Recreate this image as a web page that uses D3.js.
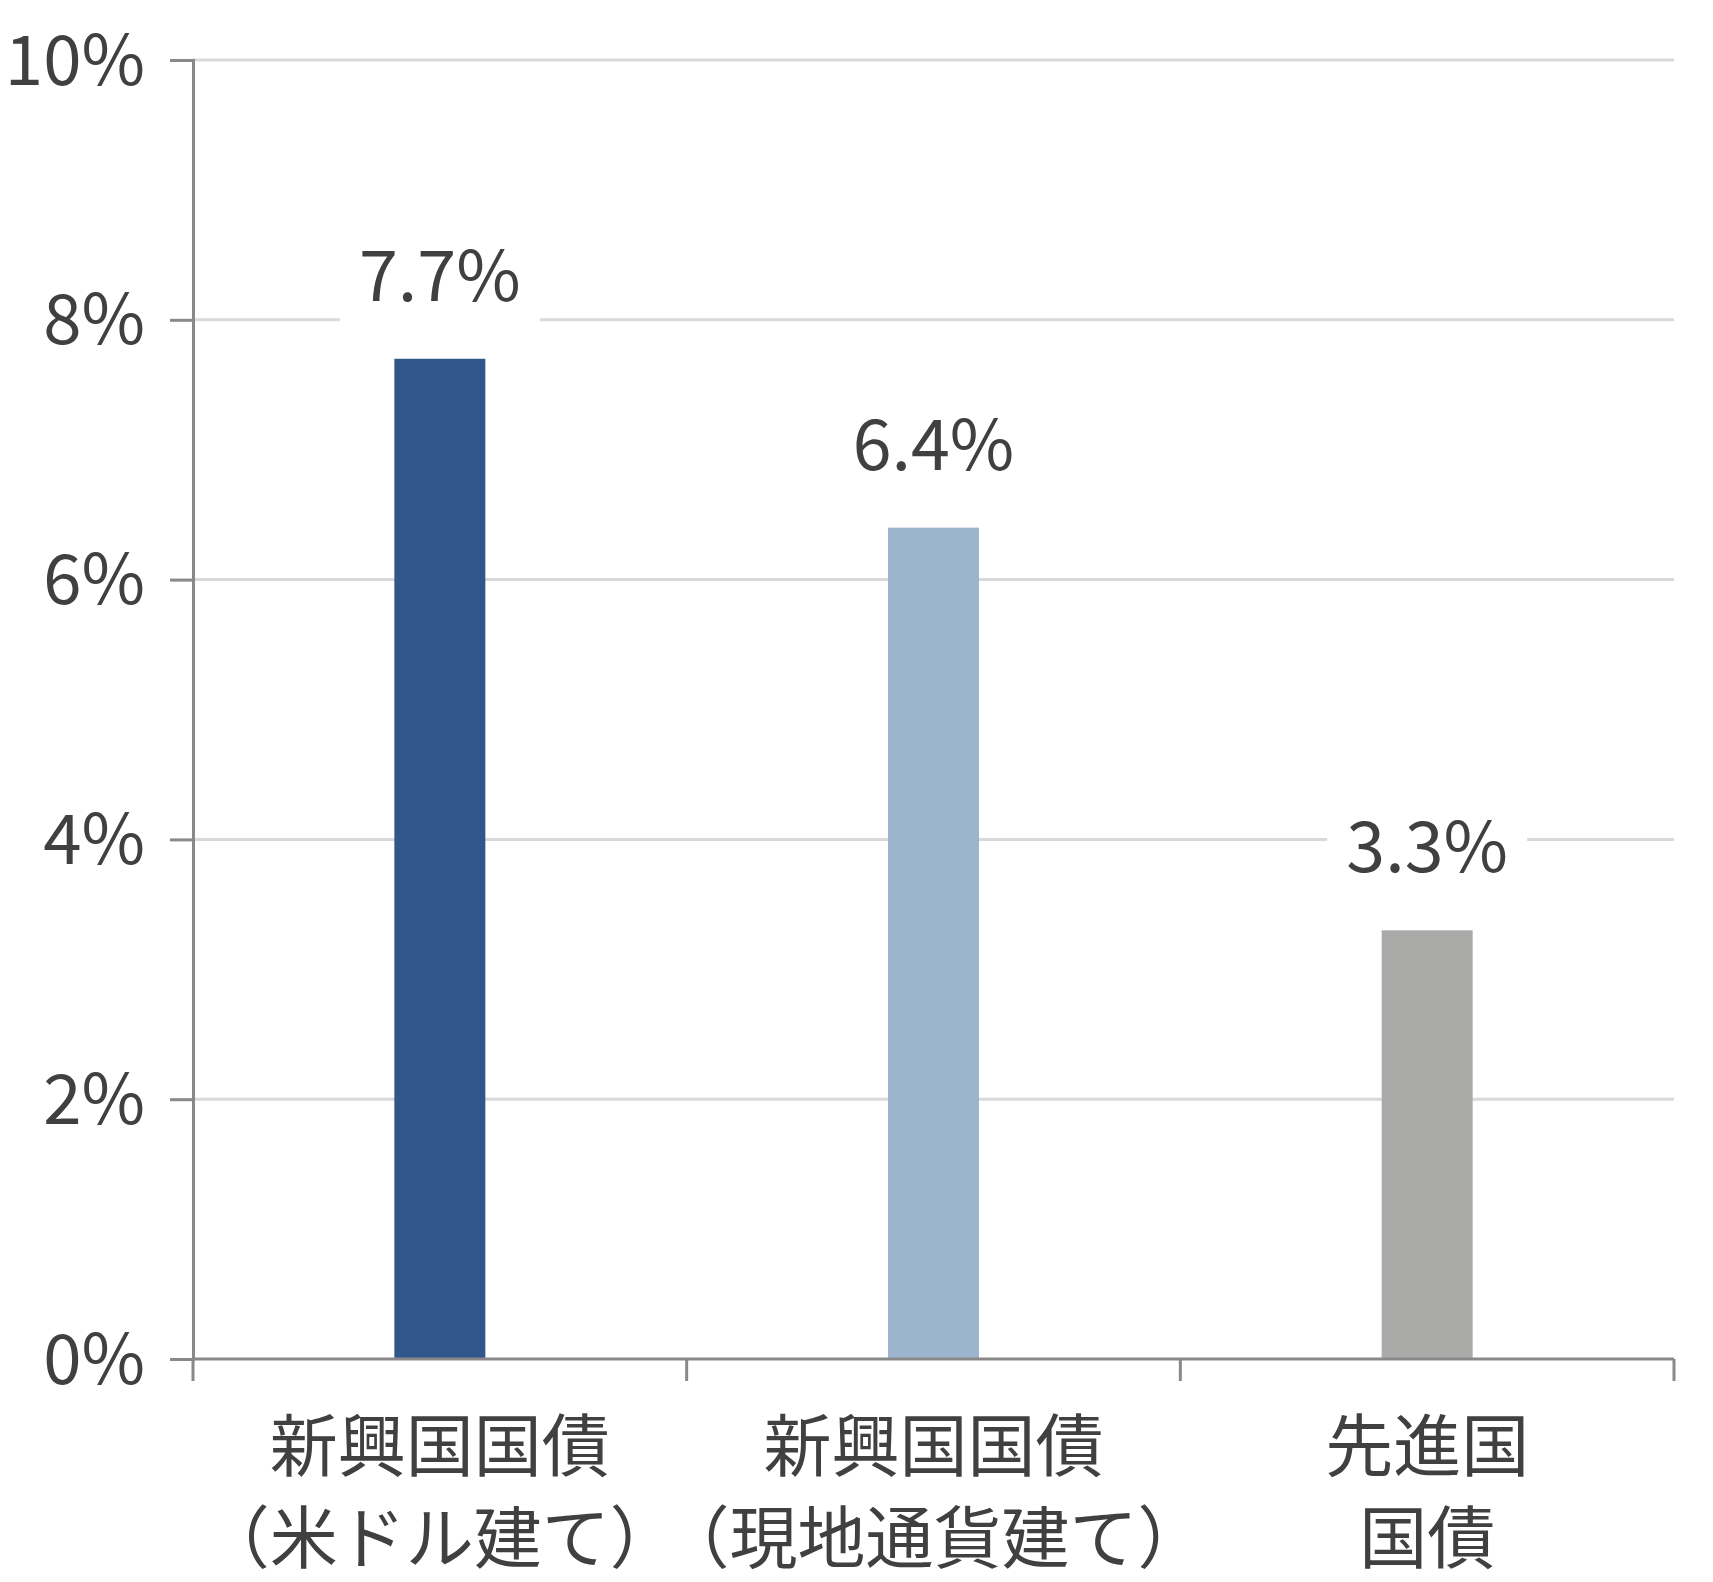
<!DOCTYPE html>
<html><head><meta charset="utf-8">
<script src="https://cdn.jsdelivr.net/npm/d3@7"></script>
<style>body{margin:0;background:#fff}</style>
</head><body>
<script>
const categories = [["新興国国債", "（米ドル建て）"], ["新興国国債", "（現地通貨建て）"], ["先進国", "国債"]];
const values = [7.7, 6.4, 3.3];
const colors = ["#31568a", "#9cb4cd", "#aaaba8"];
const yTicks = [0, 2, 4, 6, 8, 10];

const W = 1713, H = 1582;
const m = {left: 193, right: 39, top: 60, bottom: 223};
const font = '"Noto Sans CJK JP", "Noto Sans", sans-serif';
const svg = d3.select("body").append("svg").attr("width", W).attr("height", H);

const x = d3.scaleBand().domain(d3.range(categories.length)).range([m.left, W - m.right]);
const y = d3.scaleLinear().domain([0, 10]).range([H - m.bottom, m.top]);

// grid
svg.selectAll(".grid").data(yTicks.slice(1)).enter().append("line")
    .attr("x1", m.left).attr("x2", W - m.right)
    .attr("y1", d => y(d)).attr("y2", d => y(d))
    .attr("stroke", "#d9d9d9").attr("stroke-width", 3);

// bars
const bw = 91;
svg.selectAll(".bar").data(values).enter().append("rect")
    .attr("x", (d, i) => x(i) + x.bandwidth() / 2 - bw / 2)
    .attr("width", bw)
    .attr("y", d => y(d)).attr("height", d => y(0) - y(d))
    .attr("fill", (d, i) => colors[i]);

// value labels with white backing
const lab = svg.selectAll(".val").data(values).enter().append("g");
lab.append("rect")
    .attr("x", (d, i) => x(i) + x.bandwidth() / 2 - 100)
    .attr("y", d => y(d) - 115).attr("width", 200).attr("height", 80)
    .attr("fill", "#fff");
lab.append("text")
    .attr("x", (d, i) => x(i) + x.bandwidth() / 2)
    .attr("y", d => y(d) - 58)
    .attr("text-anchor", "middle")
    .style("font-family", font).style("font-size", "70px").style("fill", "#404040")
    .text(d => d.toFixed(1) + "%");

// y axis
const ya = svg.append("g").attr("transform", `translate(${m.left},0)`)
    .call(d3.axisLeft(y).tickValues(yTicks).tickSize(23).tickFormat(d => d + "%"));
ya.select(".domain").attr("stroke", "#898989").attr("stroke-width", 3);
ya.selectAll(".tick line").attr("stroke", "#898989").attr("stroke-width", 3);
ya.selectAll(".tick text").attr("x", -48).attr("dy", "0.35em")
    .style("font-family", font).style("font-size", "69px").style("fill", "#404040");

// x axis
const xa = svg.append("g").attr("transform", `translate(0,${y(0)})`);
xa.append("line").attr("x1", m.left).attr("x2", W - m.right)
    .attr("stroke", "#898989").attr("stroke-width", 3);
const edges = d3.range(categories.length + 1).map(i => m.left + i * x.step());
xa.selectAll(".xt").data(edges).enter().append("line")
    .attr("x1", d => d).attr("x2", d => d).attr("y1", 0).attr("y2", 22)
    .attr("stroke", "#898989").attr("stroke-width", 3);
const ct = xa.selectAll(".cat").data(categories).enter().append("text")
    .attr("text-anchor", "middle")
    .style("font-family", font).style("font-size", "68px").style("fill", "#404040");
ct.selectAll("tspan").data((d, i) => d.map(t => ({t, i}))).enter().append("tspan")
    .attr("x", d => x(d.i) + x.bandwidth() / 2)
    .attr("y", (d, j) => 112 + j * 92)
    .text(d => d.t);
</script>
</body></html>
